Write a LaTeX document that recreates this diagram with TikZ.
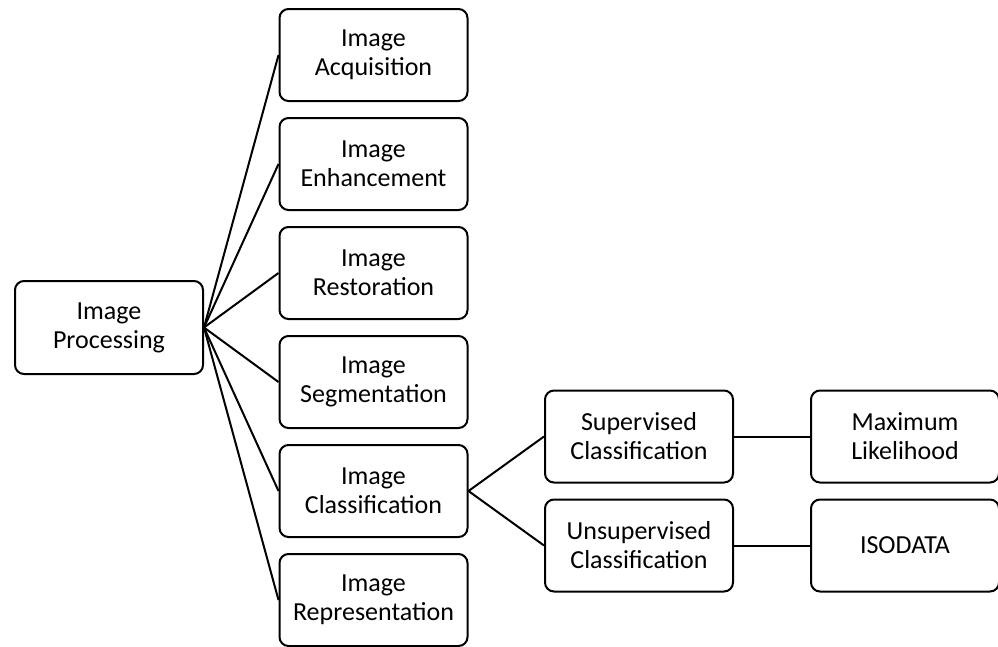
\documentclass[tikz,border=0pt]{standalone}
\usepackage{fontspec}
\setmainfont{Carlito}
\usetikzlibrary{positioning}

\begin{document}
\begin{tikzpicture}[x=1pt,y=1pt,line width=2pt,node distance=15pt,
    box/.style={draw,rounded corners=9pt,align=center,minimum width=188pt,minimum height=92pt,
      font=\fontsize{26}{29}\selectfont}]

  \useasboundingbox (0,0) rectangle (998,-646);

  \node[box,minimum height=93pt] (proc) at (109,-327.5) {Image\\Processing};
  \node[box] (acq) at (373.5,-55) {Image\\Acquisition};
  \node[box] (enh) [below=of acq] {Image\\Enhancement};
  \node[box] (res) [below=of enh] {Image\\Restoration};
  \node[box] (seg) [below=of res] {Image\\Segmentation};
  \node[box] (cls) [below=of seg] {Image\\Classification};
  \node[box] (rep) [below=of cls] {Image\\Representation};

  \node[box] (sup) at (639,-436.5) {Supervised\\Classification};
  \node[box] (unsup) [below=of sup] {Unsupervised\\Classification};
  \node[box] (ml) [right=76pt of sup] {Maximum\\Likelihood};
  \node[box] (iso) [right=76pt of unsup] {ISODATA};

  \foreach \n in {acq,enh,res,seg,cls,rep}
    \draw (proc.east) -- (\n.west);
  \draw (cls.east) -- (sup.west)
        (cls.east) -- (unsup.west);
  \draw (sup.east) -- (ml.west);
  \draw (unsup.east) -- (iso.west);

\end{tikzpicture}
\end{document}
